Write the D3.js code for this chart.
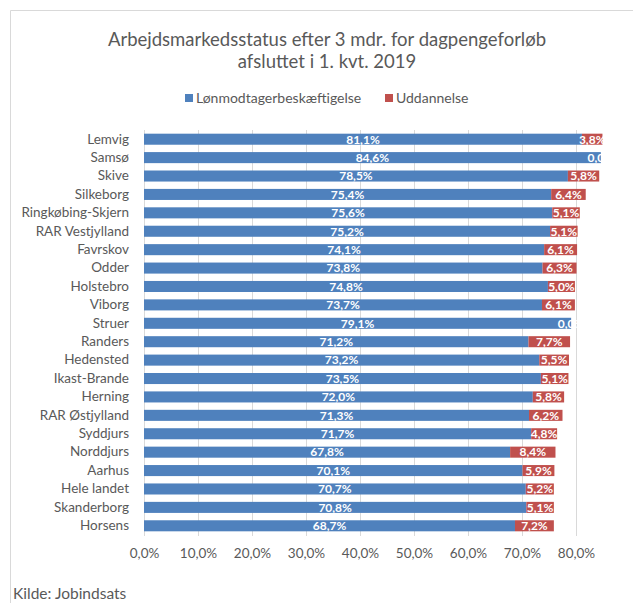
<!DOCTYPE html>
<html>
<head>
<meta charset="utf-8">
<script src="https://cdn.jsdelivr.net/npm/d3@7"></script>
<style>
  body { margin: 0; background: #fff; }
  text { font-family: Lato, "Open Sans", sans-serif; }
</style>
</head>
<body>
<div id="chart"></div>
<script>
var w = 633;
var h = 603;

// data
var kommuner = ['Lemvig', 'Samsø', 'Skive', 'Silkeborg', 'Ringkøbing-Skjern', 'RAR Vestjylland', 'Favrskov', 'Odder', 'Holstebro', 'Viborg', 'Struer', 'Randers', 'Hedensted', 'Ikast-Brande', 'Herning', 'RAR Østjylland', 'Syddjurs', 'Norddjurs', 'Aarhus', 'Hele landet', 'Skanderborg', 'Horsens'];
var loenmodtager = [81.1, 84.6, 78.5, 75.4, 75.6, 75.2, 74.1, 73.8, 74.8, 73.7, 79.1, 71.2, 73.2, 73.5, 72.0, 71.3, 71.7, 67.8, 70.1, 70.7, 70.8, 68.7];
var uddannelse = [3.8, 0.0, 5.8, 6.4, 5.1, 5.1, 6.1, 6.3, 5.0, 6.1, 0.0, 7.7, 5.5, 5.1, 5.8, 6.2, 4.8, 8.4, 5.9, 5.2, 5.1, 7.2];
var serier = ['Lønmodtagerbeskæftigelse', 'Uddannelse'];
var farver = ['#4F81BD', '#C0504D'];
var xTicks = [0, 10, 20, 30, 40, 50, 60, 70, 80];

var fmt = function(v) { return v.toFixed(1).replace('.', ',') + '%'; };

var svg = d3.select('#chart').append('svg')
    .attr('width', w)
    .attr('height', h)
    .style('display', 'block');

svg.append('rect').attr('width', w).attr('height', h).attr('fill', '#fff');

// frame of the chart (cut at the right and bottom)
svg.append('path')
    .attr('d', 'M10.5,' + h + 'V10.5H' + w)
    .attr('fill', 'none')
    .attr('stroke', '#d9d9d9');

// title
var title = svg.append('text')
    .attr('x', 327)
    .attr('text-anchor', 'middle')
    .attr('fill', '#595959')
    .style('font-size', '18.5px');
title.append('tspan').attr('x', 327).attr('y', 46).text('Arbejdsmarkedsstatus efter 3 mdr. for dagpengeforløb');
title.append('tspan').attr('x', 327).attr('y', 68).text('afsluttet i 1. kvt. 2019');

// legend
var legendX = [185, 385];
var legend = svg.selectAll('.legend')
    .data(serier)
    .enter()
    .append('g')
    .attr('class', 'legend')
    .attr('transform', function(d, i) { return 'translate(' + legendX[i] + ',94)'; });
legend.append('rect')
    .attr('width', 8)
    .attr('height', 8)
    .attr('fill', function(d, i) { return farver[i]; });
legend.append('text')
    .attr('x', 11)
    .attr('y', 9)
    .attr('fill', '#595959')
    .style('font-size', '14px')
    .text(function(d) { return d; });

var x = d3.scaleLinear().domain([0, 80]).range([144, 576]);
var y = d3.scaleBand().domain(kommuner).range([130, 535]).paddingInner(0.4).paddingOuter(0.2);

// gridlines
svg.selectAll('.grid')
    .data(xTicks)
    .enter()
    .append('line')
    .attr('class', 'grid')
    .attr('x1', function(d) { return Math.round(x(d)) + 0.5; })
    .attr('x2', function(d) { return Math.round(x(d)) + 0.5; })
    .attr('y1', 130)
    .attr('y2', 536)
    .attr('stroke', '#d9d9d9');

// x axis labels
var xAxis = svg.append('g')
    .attr('transform', 'translate(0,536)')
    .call(d3.axisBottom(x).tickValues(xTicks).tickFormat(fmt).tickSize(0).tickPadding(12));
xAxis.select('.domain').remove();
xAxis.selectAll('text')
    .attr('fill', '#595959')
    .style('font-family', 'Lato, sans-serif')
    .style('font-size', '13.5px');

// y axis labels
var yAxis = svg.append('g')
    .attr('transform', 'translate(144,0)')
    .call(d3.axisLeft(y).tickSize(0).tickPadding(15));
yAxis.select('.domain').remove();
yAxis.selectAll('text')
    .attr('fill', '#595959')
    .style('font-family', 'Lato, sans-serif')
    .style('font-size', '13.5px');

var rows = kommuner.map(function(k, i) {
    return { navn: k, a: loenmodtager[i], b: uddannelse[i] };
});

var bars = svg.selectAll('.row')
    .data(rows)
    .enter()
    .append('g')
    .attr('class', 'row');

bars.append('rect')
    .attr('x', x(0))
    .attr('y', function(d) { return y(d.navn); })
    .attr('width', function(d) { return x(d.a) - x(0); })
    .attr('height', y.bandwidth())
    .attr('fill', farver[0]);

bars.append('rect')
    .attr('x', function(d) { return x(d.a); })
    .attr('y', function(d) { return y(d.navn); })
    .attr('width', function(d) { return x(d.a + d.b) - x(d.a); })
    .attr('height', y.bandwidth())
    .attr('fill', farver[1]);

bars.append('text')
    .attr('x', function(d) { return (x(0) + x(d.a)) / 2; })
    .attr('y', function(d) { return y(d.navn) + y.bandwidth() / 2; })
    .attr('dy', '0.36em')
    .attr('text-anchor', 'middle')
    .attr('fill', '#fff')
    .style('font-size', '12px')
    .style('font-weight', 'bold')
    .text(function(d) { return fmt(d.a); });

bars.append('text')
    .attr('x', function(d) { return (x(d.a) + x(d.a + d.b)) / 2; })
    .attr('y', function(d) { return y(d.navn) + y.bandwidth() / 2; })
    .attr('dy', '0.36em')
    .attr('text-anchor', 'middle')
    .attr('fill', '#fff')
    .style('font-size', '12px')
    .style('font-weight', 'bold')
    .text(function(d) { return fmt(d.b); });

// source
svg.append('text')
    .attr('x', 13)
    .attr('y', 599)
    .attr('fill', '#595959')
    .style('font-size', '15.5px')
    .text('Kilde: Jobindsats');
</script>
</body>
</html>
